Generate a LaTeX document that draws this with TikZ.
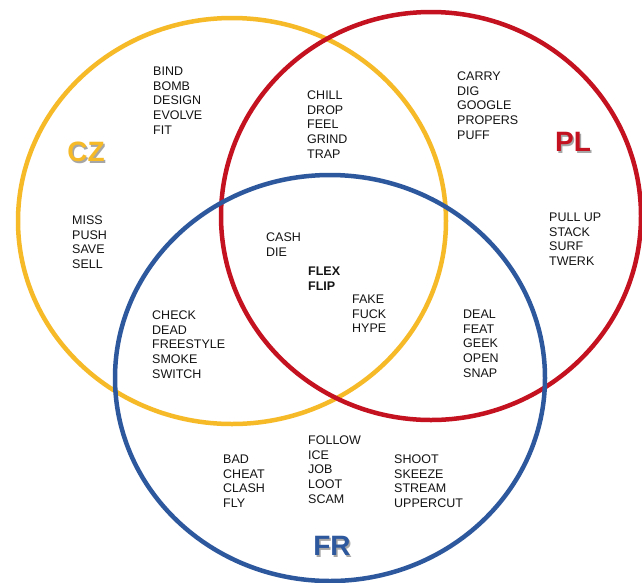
\documentclass[tikz,border=0pt]{standalone}
\usepackage{fontspec}
\setmainfont{Liberation Sans}
\definecolor{czyel}{RGB}{246,186,40}
\definecolor{plred}{RGB}{196,18,32}
\definecolor{frblue}{RGB}{46,88,158}
\definecolor{txt}{RGB}{20,20,20}
\begin{document}
\begin{tikzpicture}[x=1pt,y=-1pt,
  ring/.style={line width=4.5pt},
  words/.style={anchor=north west,inner sep=0pt,align=left,text=txt,
    font=\fontsize{12.5}{14.75}\selectfont},
  big/.style={inner sep=0pt,font=\fontsize{28}{30}\bfseries\selectfont},
  shade/.style={big,text=black!35}]
\useasboundingbox (0,0) rectangle (642,582);
\fill[white] (0,0) rectangle (642,582);
% circles
\draw[ring,czyel] (232,221) ellipse [x radius=214pt, y radius=203pt];
\draw[ring,plred] (431,216) ellipse [x radius=210pt, y radius=204pt];
\draw[ring,frblue] (330,378) ellipse [x radius=215pt, y radius=203pt];
% labels with shadow
\node[shade] (czs) at (87.5,153.5) {CZ};
\node[big,text=czyel] (cz) at (86,152) {CZ};
\node[shade] (pls) at (574.5,143.5) {PL};
\node[big,text=plred] (pl) at (573,142) {PL};
\node[shade] (frs) at (333.5,547.5) {FR};
\node[big,text=frblue] (fr) at (332,546) {FR};
% word groups
\node[words] (g1) at (153,66.5) {BIND\\BOMB\\DESIGN\\EVOLVE\\FIT};
\node[words] (g2) at (307,90.5) {CHILL\\DROP\\FEEL\\GRIND\\TRAP};
\node[words] (g3) at (457,71.5) {CARRY\\DIG\\GOOGLE\\PROPERS\\PUFF};
\node[words] (g4) at (72,215.5) {MISS\\PUSH\\SAVE\\SELL};
\node[words] (g5) at (266,232.5) {CASH\\DIE};
\node[words,font=\fontsize{12.5}{15.5}\bfseries\selectfont] (g6) at (308,266.5) {FLEX\\FLIP};
\node[words] (g7) at (352,294.5) {FAKE\\FUCK\\HYPE};
\node[words] (g8) at (549,212.5) {PULL UP\\STACK\\SURF\\TWERK};
\node[words] (g9) at (152,310.5) {CHECK\\DEAD\\FREESTYLE\\SMOKE\\SWITCH};
\node[words] (g10) at (463,309.5) {DEAL\\FEAT\\GEEK\\OPEN\\SNAP};
\node[words] (g11) at (223,454.5) {BAD\\CHEAT\\CLASH\\FLY};
\node[words] (g12) at (308,435.5) {FOLLOW\\ICE\\JOB\\LOOT\\SCAM};
\node[words] (g13) at (394,454.5) {SHOOT\\SKEEZE\\STREAM\\UPPERCUT};
\end{tikzpicture}
\end{document}
